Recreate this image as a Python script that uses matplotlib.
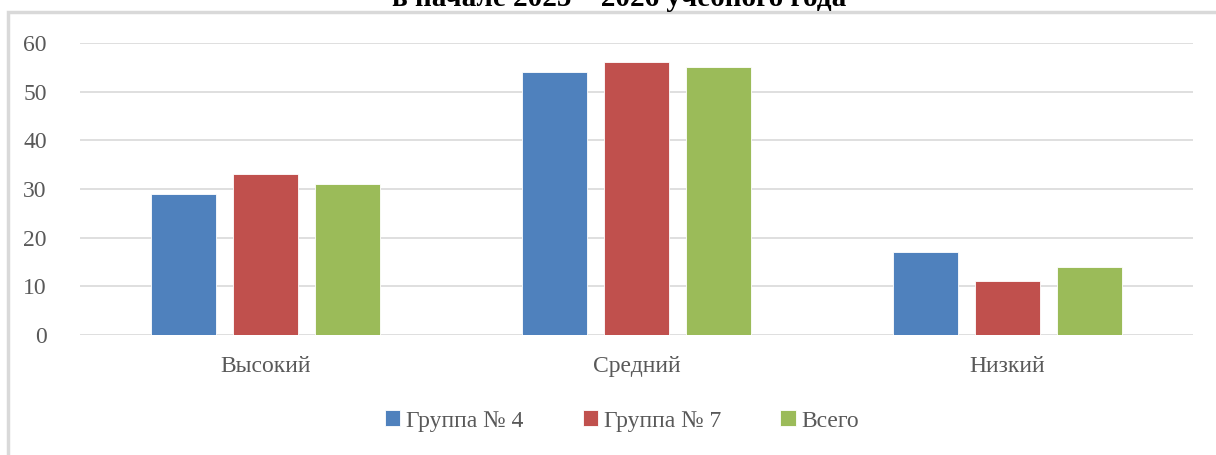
import numpy as np
import matplotlib.pyplot as plt
from matplotlib.patches import Rectangle

# данные
categories = ["Высокий", "Средний", "Низкий"]
group4 = [29, 54, 17]
group7 = [33, 56, 11]
total = [31, 55, 14]
series_names = ["Группа № 4", "Группа № 7", "Всего"]
colors = ["#4f81bd", "#c0504d", "#9bbb59"]

plt.rcParams['font.family'] = ['Liberation Serif', 'DejaVu Serif']

fig = plt.figure(figsize=(12.16, 4.55), dpi=100)
ax = fig.add_axes([80/1216, 1-335/455, (1193-80)/1216, (335-43)/455])

x = np.arange(len(categories))
width = 0.175
step = 0.22
for i, vals in enumerate([group4, group7, total]):
    ax.bar(x + (i-1)*step, vals, width, color=colors[i], label=series_names[i],
           edgecolor="white", linewidth=0.6, zorder=3)

ax.set_xlim(-0.5, 2.5)
ax.set_ylim(0, 60)
ax.set_yticks(range(0, 61, 10))
ax.set_xticks(x)
ax.set_xticklabels(categories)
ax.grid(axis="y", color="#d9d9d9", linewidth=1.2, zorder=0)
for s in ax.spines.values():
    s.set_visible(False)
ax.tick_params(axis="both", length=0, labelsize=17, labelcolor="#595959")
ax.tick_params(axis="y", pad=24)
ax.tick_params(axis="x", pad=15)

leg = fig.legend(loc="center", bbox_to_anchor=(622/1216, 1-421/455), ncol=3,
                 frameon=False, fontsize=17, handlelength=0.65, handleheight=0.65,
                 handletextpad=0.25, columnspacing=2.5)
for t in leg.get_texts():
    t.set_color("#595959")

# заголовок (обрезан сверху, как на картинке)
fig.text(619/1216, 1-6/455, "в начале 2025 – 2026 учебного года", ha="center",
         va="baseline", fontsize=21, fontweight="bold", color="black")

# рамка диаграммы
fig.patches.append(Rectangle((8/1216, -0.1), 1.2, 1-12/455+0.1, transform=fig.transFigure,
                             fill=False, edgecolor="#d9d9d9", linewidth=2.5))

plt.savefig("out.png", dpi=100)
